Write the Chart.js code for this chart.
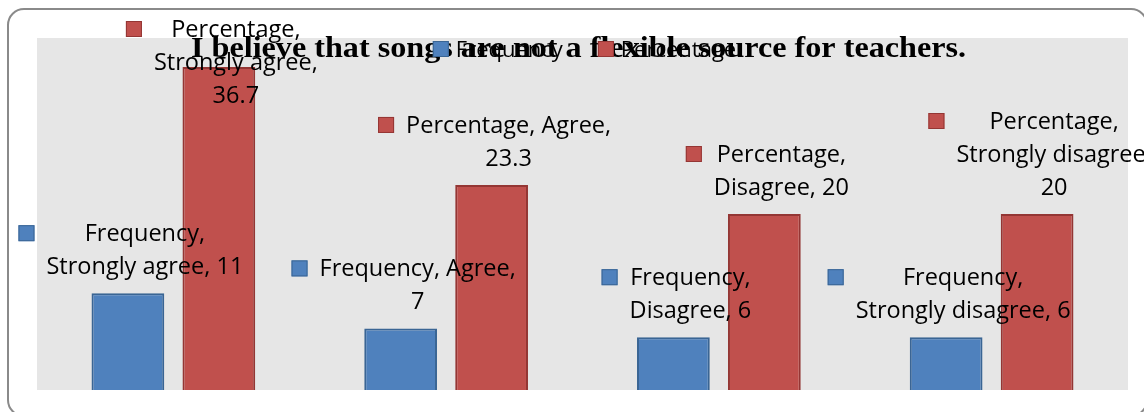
<!DOCTYPE html>
<html>
<head>
<meta charset="utf-8">
<script src="https://cdn.jsdelivr.net/npm/chart.js@4"></script>
<style>
  html, body { margin: 0; padding: 0; background: #fff; }
  #wrap { width: 1144px; height: 412px; position: relative; }
</style>
</head>
<body>
<div id="wrap"><canvas id="songsChart"></canvas></div>
<script>
const categories = ['Strongly agree', 'Agree', 'Disagree', 'Strongly disagree'];
const frequency = [11, 7, 6, 6];
const percentage = [36.7, 23.3, 20, 20];

// how many label parts (series, category, value) go on each line
const frequencyWrap = [[1, 2], [2, 1], [1, 2], [1, 2]];
const percentageWrap = [[1, 1, 1], [2, 1], [1, 2], [1, 1, 1]];

const titleText = 'I believe that songs are not a flexible source for teachers.';
const labelFont = '23.5px "Open Sans"';
const lineGap = 33;

// frame and grey plot background
const framePlugin = {
  id: 'frame',
  beforeDraw(chart) {
    const { ctx, chartArea } = chart;
    ctx.save();
    ctx.fillStyle = '#e6e6e6';
    ctx.fillRect(chartArea.left, chartArea.top, chartArea.right - chartArea.left, chartArea.bottom - chartArea.top);

    ctx.strokeStyle = '#8a8a8a';
    ctx.lineWidth = 2;
    ctx.beginPath();
    ctx.roundRect(8, 9, 1139, 407, 16);
    ctx.stroke();

    // title sits under the legend keys, stretched to its wide setting
    ctx.font = 'bold 29px "Liberation Serif"';
    ctx.fillStyle = '#000';
    ctx.textAlign = 'center';
    ctx.textBaseline = 'alphabetic';
    const tw = ctx.measureText(titleText).width;
    const sx = 775 / tw;
    ctx.translate((chartArea.left + chartArea.right) / 2 - 4, 57);
    ctx.scale(sx, 1);
    ctx.fillText(titleText, 0, 0);
    ctx.restore();
  }
};

// legend row drawn over the title
const keyRowPlugin = {
  id: 'keyRow',
  beforeDatasetsDraw(chart) {
    const { ctx, chartArea } = chart;
    const sets = chart.data.datasets;
    ctx.save();
    ctx.font = '22px "Open Sans"';
    const items = sets.map(ds => ({ ds, w: 16 + 7 + ctx.measureText(ds.label).width }));
    const spacing = 35;
    const total = items.reduce((s, it) => s + it.w, 0) + spacing * (items.length - 1);
    let x = (chartArea.left + chartArea.right) / 2 - total / 2 + 2;
    const cy = 49;
    items.forEach(it => {
      ctx.fillStyle = it.ds.backgroundColor;
      ctx.strokeStyle = it.ds.borderColor;
      ctx.lineWidth = 1;
      ctx.fillRect(x, cy - 8, 16, 16);
      ctx.strokeRect(x + 0.5, cy - 7.5, 15, 15);
      ctx.fillStyle = '#000';
      ctx.textAlign = 'left';
      ctx.textBaseline = 'alphabetic';
      ctx.fillText(it.ds.label, x + 23, cy + 7.5);
      x += it.w + spacing;
    });
    ctx.restore();
  }
};

// "Series, Category, value" labels with a colour key, above each bar
const barLabelPlugin = {
  id: 'barLabels',
  afterDatasetsDraw(chart) {
    const { ctx } = chart;
    ctx.save();
    ctx.font = labelFont;
    chart.data.datasets.forEach((ds, i) => {
      const meta = chart.getDatasetMeta(i);
      meta.data.forEach((bar, j) => {
        const parts = [ds.label + ',', chart.data.labels[j] + ',', String(ds.data[j])];
        const lines = [];
        let k = 0;
        ds.wrap[j].forEach(n => {
          lines.push(parts.slice(k, k + n).join(' '));
          k += n;
        });
        const blockW = Math.max(...lines.map(l => ctx.measureText(l).width));
        const totalW = 16 + 12 + blockW;
        const left = bar.x - totalW / 2 + 3;
        let firstY = bar.y - 27 - (lines.length - 1) * lineGap;
        if (firstY < 29) firstY = 29;

        ctx.fillStyle = ds.backgroundColor;
        ctx.strokeStyle = ds.borderColor;
        ctx.lineWidth = 1;
        ctx.fillRect(left, firstY - 8, 16, 16);
        ctx.strokeRect(left + 0.5, firstY - 7.5, 15, 15);

        ctx.fillStyle = '#000';
        ctx.textAlign = 'center';
        ctx.textBaseline = 'alphabetic';
        const cx = left + 28 + blockW / 2;
        lines.forEach((l, n) => ctx.fillText(l, cx, firstY + n * lineGap + 8));
      });
    });
    ctx.restore();
  }
};

const ctx = document.getElementById('songsChart').getContext('2d');
new Chart(ctx, {
  type: 'bar',
  data: {
    labels: categories,
    datasets: [
      {
        label: 'Frequency',
        data: frequency,
        wrap: frequencyWrap,
        backgroundColor: '#4f81bd',
        borderColor: '#3a6594',
        borderWidth: 2,
      },
      {
        label: 'Percentage',
        data: percentage,
        wrap: percentageWrap,
        backgroundColor: '#c0504d',
        borderColor: '#943634',
        borderWidth: 2,
      },
    ],
  },
  options: {
    responsive: true,
    maintainAspectRatio: false,
    animation: false,
    layout: { padding: { left: 37, right: 16, top: 38, bottom: 22 } },
    categoryPercentage: 0.667,
    barPercentage: 0.8,
    plugins: {
      legend: { display: false },
      title: { display: false },
      tooltip: { enabled: false },
    },
    scales: {
      x: { display: false, grid: { display: false } },
      y: { display: false, min: 0, max: 40, grid: { display: false } },
    },
  },
  plugins: [framePlugin, keyRowPlugin, barLabelPlugin],
});
</script>
</body>
</html>
